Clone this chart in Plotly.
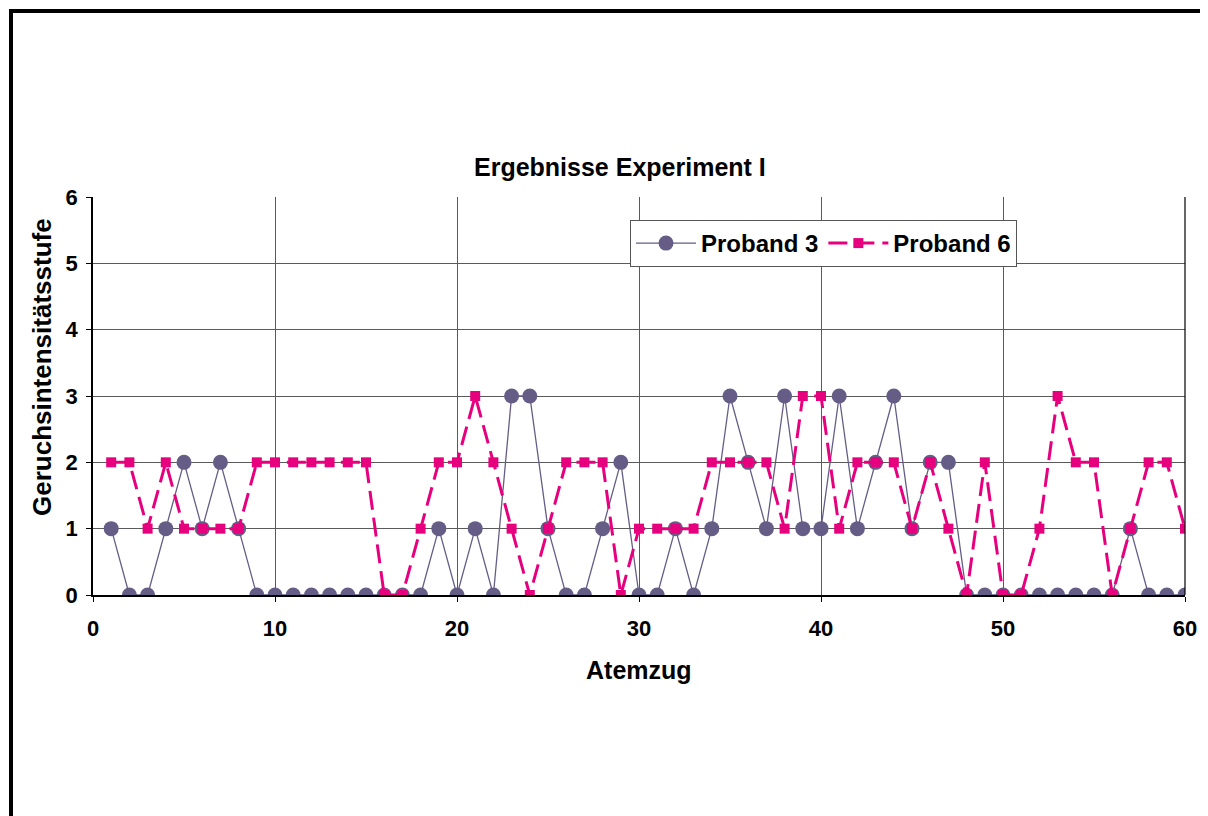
import plotly.graph_objects as go

atemzug = list(range(1, 61))
proband3 = [1, 0, 0, 1, 2, 1, 2, 1, 0, 0,
            0, 0, 0, 0, 0, 0, 0, 0, 1, 0,
            1, 0, 3, 3, 1, 0, 0, 1, 2, 0,
            0, 1, 0, 1, 3, 2, 1, 3, 1, 1,
            3, 1, 2, 3, 1, 2, 2, 0, 0, 0,
            0, 0, 0, 0, 0, 0, 1, 0, 0, 0]
proband6 = [2, 2, 1, 2, 1, 1, 1, 1, 2, 2,
            2, 2, 2, 2, 2, 0, 0, 1, 2, 2,
            3, 2, 1, 0, 1, 2, 2, 2, 0, 1,
            1, 1, 1, 2, 2, 2, 2, 1, 3, 3,
            1, 2, 2, 2, 1, 2, 1, 0, 2, 0,
            0, 1, 3, 2, 2, 0, 1, 2, 2, 1]
x_ticks = [0, 10, 20, 30, 40, 50, 60]
y_ticks = [0, 1, 2, 3, 4, 5, 6]

# page body margin offset (browser default 8px)
OFF = 8
W, H = 1208 - OFF, 816 - OFF
# plot area in screen pixels
L, R, T, B = 93, 1185, 197, 595


def px(x):
    return (x - L) / (R - L)


def py(y):
    return (B - y) / (B - T)


FONT = "Liberation Sans, Arial, sans-serif"

fig = go.Figure()
fig.add_trace(go.Scatter(
    x=atemzug, y=proband3, name="Proband 3", mode="lines+markers",
    line=dict(color="#655D85", width=1.3),
    marker=dict(symbol="circle", size=15, color="#655D85"),
))
fig.add_trace(go.Scatter(
    x=atemzug, y=proband6, name="Proband 6", mode="lines+markers",
    line=dict(color="#E6007E", width=3, dash="19px,8px"),
    marker=dict(symbol="square", size=10, color="#E6007E"),
))

fig.update_layout(
    width=W, height=H,
    margin=dict(l=L - OFF, r=W - (R - OFF), t=T - OFF, b=H - (B - OFF), pad=0),
    paper_bgcolor="white", plot_bgcolor="white",
    font=dict(family=FONT, size=20, color="black"),
    showlegend=True,
    legend=dict(
        orientation="h", x=px(630), y=py(220), xanchor="left", yanchor="top",
        bgcolor="white", bordercolor="#555555", borderwidth=1,
        font=dict(family=FONT, size=24, color="black", weight="bold"),
        itemwidth=60, tracegroupgap=0,
    ),
    xaxis=dict(
        range=[0, 60], tickmode="array", tickvals=x_ticks,
        ticktext=["<b>%d</b>" % v for v in x_ticks],
        showgrid=True, gridcolor="#5A5A5A", gridwidth=1,
        showline=True, linecolor="black", linewidth=1.5, mirror=False,
        ticks="outside", ticklen=5, tickcolor="black",
        tickfont_family=FONT, tickfont_size=22, tickfont_color="black",
        ticklabelstandoff=8, zeroline=False,
    ),
    yaxis=dict(
        range=[0, 6], tickmode="array", tickvals=y_ticks,
        ticktext=["<b>%d</b>" % v for v in y_ticks],
        showgrid=True, gridcolor="#5A5A5A", gridwidth=1,
        showline=True, linecolor="black", linewidth=1.5,
        ticks="outside", ticklen=5, tickcolor="black",
        tickfont_family=FONT, tickfont_size=22, tickfont_color="black",
        ticklabelstandoff=4, zeroline=False,
    ),
    annotations=[
        dict(text="Ergebnisse Experiment I", x=px(620), y=py(167),
             xref="paper", yref="paper", showarrow=False,
             xanchor="center", yanchor="middle",
             font=dict(family=FONT, size=25, weight="bold")),
        dict(text="Atemzug", x=px(639), y=py(670),
             xref="paper", yref="paper", showarrow=False,
             xanchor="center", yanchor="middle",
             font=dict(family=FONT, size=25, weight="bold")),
        dict(text="Geruchsintensitätsstufe", x=px(42), y=py(367),
             xref="paper", yref="paper", showarrow=False, textangle=-90,
             xanchor="center", yanchor="middle",
             font=dict(family=FONT, size=26, weight="bold")),
    ],
    shapes=[
        dict(type="rect", xref="paper", yref="paper",
             x0=px(11), x1=px(1230), y0=py(11), y1=py(840),
             line=dict(color="black", width=4), fillcolor="rgba(0,0,0,0)",
             layer="below"),
        dict(type="line", xref="paper", yref="paper",
             x0=1, x1=1, y0=0, y1=1, line=dict(color="black", width=1.2)),
    ],
)

fig.write_html("out.html")
